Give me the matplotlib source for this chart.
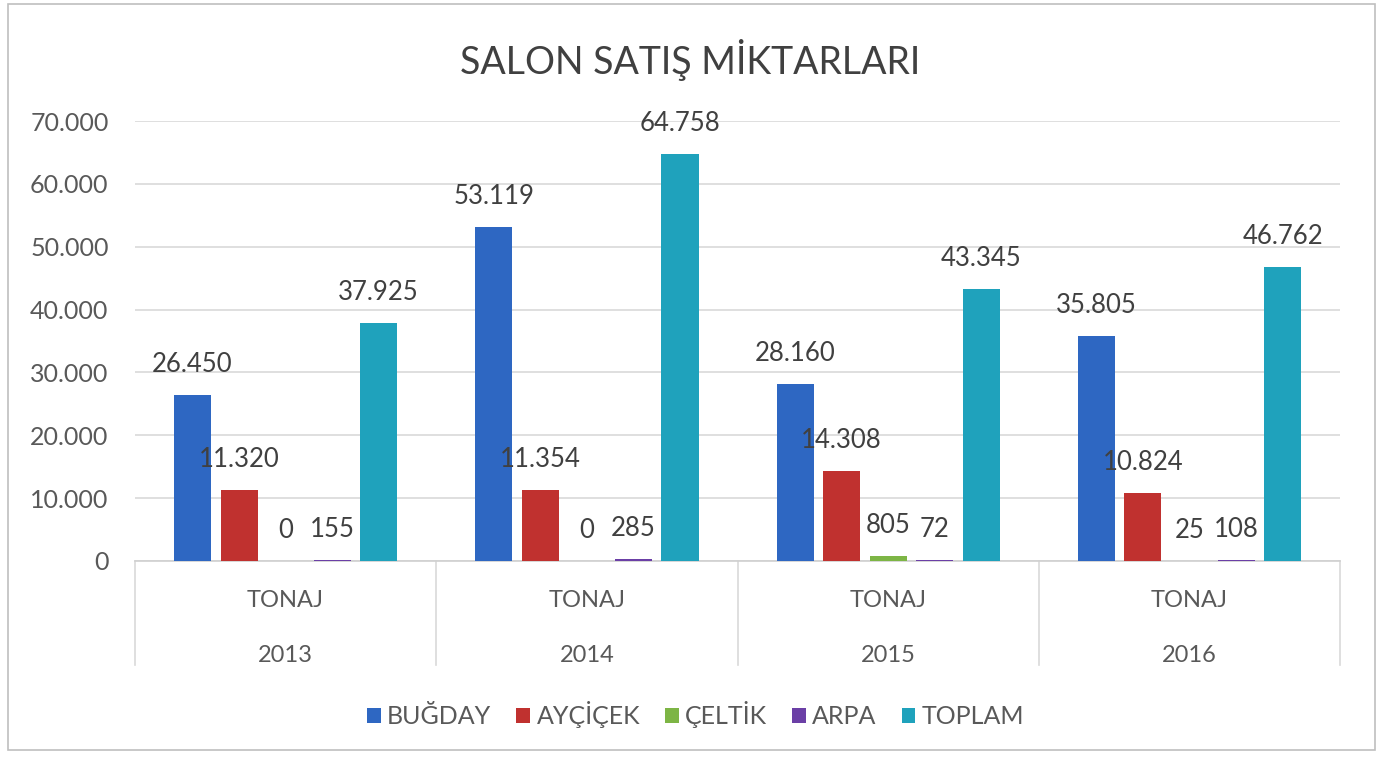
import matplotlib.pyplot as plt
from matplotlib.patches import Rectangle
from matplotlib.ticker import FuncFormatter
import numpy as np

plt.rcParams['font.family'] = ['Lato', 'DejaVu Sans']

# Data
years = ['2013', '2014', '2015', '2016']
group_label = 'TONAJ'
series_names = ['BUĞDAY', 'AYÇİÇEK', 'ÇELTİK', 'ARPA', 'TOPLAM']
bugday = [26450, 53119, 28160, 35805]
aycicek = [11320, 11354, 14308, 10824]
celtik = [0, 0, 805, 25]
arpa = [155, 285, 72, 108]
toplam = [37925, 64758, 43345, 46762]
colors = ['#2E67C2', '#C0312F', '#7DB545', '#6B3FA6', '#1FA2BC']

series = [bugday, aycicek, celtik, arpa, toplam]

def tr_fmt(v, pos=None):
    return f"{int(round(v)):,}".replace(',', '.')

fig = plt.figure(figsize=(13.83, 7.57), dpi=100)
ax = fig.add_axes([0.0976, 0.259, 0.8714, 0.581])

x = np.arange(len(years))
step = 0.1545
width = 0.123
text_col = '#404040'

for i, (name, vals, col) in enumerate(zip(series_names, series, colors)):
    pos = x + (i - 2) * step
    ax.bar(pos, vals, width=width, color=col, label=name, zorder=3)
    for p, v in zip(pos, vals):
        ax.annotate(tr_fmt(v), (p, v), xytext=(0, 13), textcoords='offset points',
                    ha='center', va='bottom', fontsize=18.5, color=text_col, zorder=4)

ax.set_xlim(-0.5, len(years) - 0.5)
ax.set_ylim(0, 70000)
ax.set_yticks(np.arange(0, 70001, 10000))
ax.yaxis.set_major_formatter(FuncFormatter(tr_fmt))
ax.tick_params(axis='y', length=0, labelsize=18, labelcolor='#595959', pad=19)
ax.set_xticks([])
ax.grid(axis='y', color='#D9D9D9', linewidth=1.2, zorder=0)
for s in ['top', 'right', 'left']:
    ax.spines[s].set_visible(False)
ax.spines['bottom'].set_color('#D0D0D0')
ax.spines['bottom'].set_linewidth(1.2)

# category axis: separators and two-level labels
trans = ax.get_xaxis_transform()
for b in np.arange(-0.5, len(years), 1.0):
    ax.plot([b, b], [0, -0.236], transform=trans, color='#D9D9D9', lw=1.2, clip_on=False)
for xi, yr in zip(x, years):
    ax.text(xi, -0.089, group_label, transform=trans, ha='center', va='center',
            fontsize=17, color='#595959')
    ax.text(xi, -0.214, yr, transform=trans, ha='center', va='center',
            fontsize=17, color='#595959')

fig.text(0.499, 0.921, 'SALON SATIŞ MİKTARLARI', ha='center', va='center',
         fontsize=27, color='#404040')

handles, labels = ax.get_legend_handles_labels()
fig.legend(handles, labels, loc='center', bbox_to_anchor=(0.503, 0.056), ncol=5,
           frameon=False, fontsize=18, handlelength=0.55, handleheight=0.55,
           handletextpad=0.25, columnspacing=1.0, labelcolor='#595959')

fig.patches.append(Rectangle((8 / 1383, 7 / 757), 1367 / 1383, 746 / 757,
                             transform=fig.transFigure, fill=False,
                             edgecolor='#BFBFBF', lw=1.2))

fig.savefig('out.png', dpi=100)
